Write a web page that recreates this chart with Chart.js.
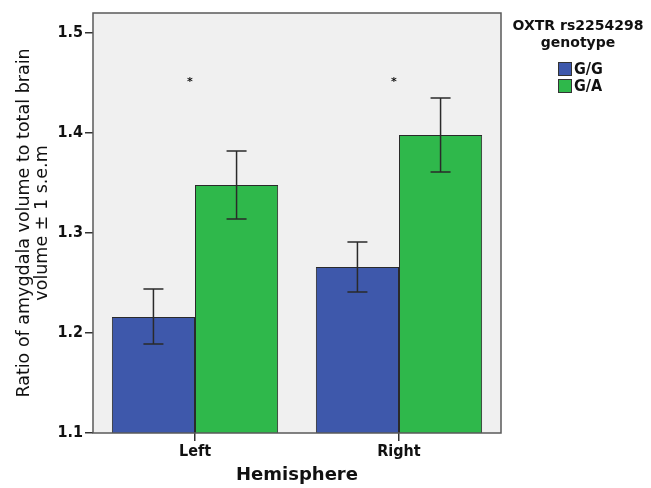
<!DOCTYPE html>
<html>
<head>
<meta charset="utf-8">
<script src="https://cdn.jsdelivr.net/npm/chart.js@4/dist/chart.umd.min.js"></script>
<style>
  html, body { margin: 0; padding: 0; background: #fff; }
  #wrap { position: relative; width: 651px; height: 488px; }
  #legend { position: absolute; left: 505px; top: 17px; width: 146px; font-family: "DejaVu Sans", sans-serif; color: #111; }
  #legend .title { font-weight: bold; font-size: 14px; line-height: 17px; text-align: center; }
  #legend .items { margin-left: 53px; margin-top: 9px; }
  #legend .item { display: flex; align-items: center; height: 17px; font-family: "DejaVu Sans Condensed", "DejaVu Sans", sans-serif; font-size: 16px; font-weight: bold; }
  #legend .box { width: 12px; height: 12px; border: 1px solid #333; margin-right: 2px; }
</style>
</head>
<body>
<div id="wrap">
  <canvas id="c" width="651" height="488"></canvas>
  <div id="legend"></div>
</div>
<script>
const categories = ["Left", "Right"];
const seriesNames = ["G/G", "G/A"];
const meanGG = [1.216, 1.266];
const meanGA = [1.348, 1.398];
const errLowGG = [1.189, 1.241];
const errHighGG = [1.244, 1.291];
const errLowGA = [1.314, 1.361];
const errHighGA = [1.382, 1.435];
const significanceY = [1.453, 1.453];
const yTicks = [1.1, 1.2, 1.3, 1.4, 1.5];
const colors = ["#3e58ab", "#2fb84b"];
const legendTitle = ["OXTR rs2254298", "genotype"];

const errLow = [errLowGG, errLowGA];
const errHigh = [errHighGG, errHighGA];
const condFont = "'DejaVu Sans Condensed', 'DejaVu Sans', sans-serif";

const plotBg = {
  id: "plotBg",
  beforeDraw(chart) {
    const {ctx, chartArea: a} = chart;
    ctx.save();
    ctx.fillStyle = "#f0f0f0";
    ctx.fillRect(a.left, a.top, a.right - a.left, a.bottom - a.top);
    ctx.restore();
  },
  afterDraw(chart) {
    const {ctx, chartArea: a} = chart;
    ctx.save();
    ctx.strokeStyle = "#5a5a5a";
    ctx.lineWidth = 1.5;
    ctx.strokeRect(a.left, a.top, a.right - a.left, a.bottom - a.top);
    ctx.restore();
  }
};

const errorBars = {
  id: "errorBars",
  afterDatasetsDraw(chart) {
    const {ctx} = chart;
    const ys = chart.scales.y;
    ctx.save();
    ctx.strokeStyle = "#2a2a2a";
    ctx.lineWidth = 1.5;
    chart.data.datasets.forEach((ds, di) => {
      const meta = chart.getDatasetMeta(di);
      meta.data.forEach((bar, i) => {
        const x = bar.x;
        const yl = ys.getPixelForValue(errLow[di][i]);
        const yh = ys.getPixelForValue(errHigh[di][i]);
        const cap = 10;
        ctx.beginPath();
        ctx.moveTo(x, yl); ctx.lineTo(x, yh);
        ctx.moveTo(x - cap, yl); ctx.lineTo(x + cap, yl);
        ctx.moveTo(x - cap, yh); ctx.lineTo(x + cap, yh);
        ctx.stroke();
      });
    });
    const xs = chart.scales.x;
    ctx.fillStyle = "#111";
    ctx.font = "bold 11px 'DejaVu Sans'";
    ctx.textAlign = "center";
    ctx.textBaseline = "middle";
    significanceY.forEach((v, i) => {
      ctx.fillText("*", xs.getPixelForValue(i) - 5, ys.getPixelForValue(v) + 2);
    });
    ctx.restore();
  }
};

new Chart(document.getElementById("c"), {
  type: "bar",
  data: {
    labels: categories,
    datasets: seriesNames.map((n, i) => ({
      label: n,
      data: i === 0 ? meanGG : meanGA,
      backgroundColor: colors[i],
      borderColor: "#2a2a2a",
      borderWidth: 1,
      borderSkipped: false,
      categoryPercentage: 0.815,
      barPercentage: 1.0
    }))
  },
  options: {
    responsive: false,
    animation: false,
    layout: { padding: { top: 13, right: 150, left: 0, bottom: 0 } },
    plugins: { legend: { display: false }, tooltip: { enabled: false } },
    scales: {
      x: {
        offset: true,
        grid: { display: true, offset: false, drawOnChartArea: false, tickLength: 8, color: "#333", lineWidth: 1.5 },
        border: { display: false },
        ticks: { color: "#111", font: { family: condFont, size: 16, weight: "bold" }, padding: 1 },
        title: { display: true, text: "Hemisphere", color: "#111", font: { family: "DejaVu Sans", size: 18, weight: "bold" }, padding: { top: 2, bottom: 2 } },
        afterFit(s) { s.height = 55; }
      },
      y: {
        min: 1.1,
        max: 1.52,
        afterBuildTicks(s) { s.ticks = yTicks.map(v => ({ value: v })); },
        grid: { display: true, drawOnChartArea: false, tickLength: 8, color: "#333", lineWidth: 1.5 },
        border: { display: false },
        ticks: { color: "#111", font: { family: condFont, size: 16, weight: "bold" }, padding: 2, callback: v => v.toFixed(1) },
        title: { display: true, text: ["Ratio of amygdala volume to total brain", "volume ± 1 s.e.m"], color: "#111", font: { family: "DejaVu Sans", size: 17.5, lineHeight: 1.05 }, padding: { top: 15, bottom: 0 } },
        afterFit(s) { s.width = 93; }
      }
    }
  },
  plugins: [plotBg, errorBars]
});

const lg = document.getElementById("legend");
lg.innerHTML = '<div class="title">' + legendTitle.join("<br>") + '</div><div class="items">' +
  seriesNames.map((n, i) => '<div class="item"><span class="box" style="background:' + colors[i] + '"></span>' + n + '</div>').join("") + '</div>';
</script>
</body>
</html>
